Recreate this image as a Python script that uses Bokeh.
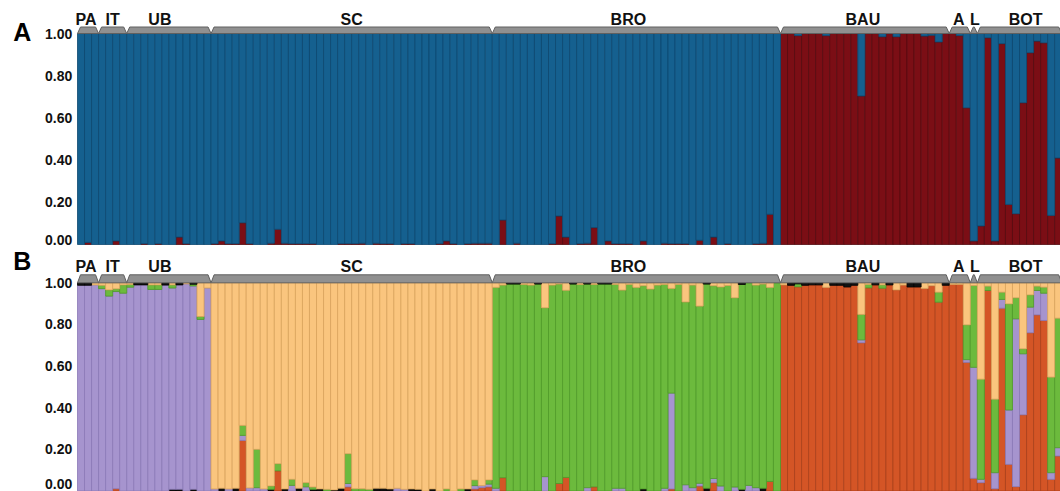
import numpy as np
from bokeh.plotting import figure
from bokeh.layouts import column
from bokeh.models import ColumnDataSource, Range1d
from bokeh.core.properties import value
from bokeh.embed import file_html
from bokeh.resources import INLINE

# ---------------- data ----------------
populations = ["PA", "IT", "UB", "SC", "BRO", "BAU", "A", "L", "BOT"]
pop_sizes = [3, 4, 12, 40, 41, 24, 3, 1, 12]
tick_values = [0.0, 0.2, 0.4, 0.6, 0.8, 1.0]
tick_labels = ["0.00", "0.20", "0.40", "0.60", "0.80", "1.00"]
panel_letters = ["A", "B"]

# Panel A (K=2): membership in the dark-red cluster; blue cluster = remainder (q sums to 1)
a_red = [
    0, 0.01, 0,                                            # PA
    0, 0, 0.017, 0,                                        # IT
    0, 0, 0.004, 0, 0.004, 0, 0, 0.035, 0.004, 0, 0, 0,    # UB
    0.004, 0.017, 0.004, 0.004, 0.103, 0.004, 0, 0, 0.006, 0.072,      # SC 19-28
    0.006, 0.004, 0.004, 0.004, 0.004, 0, 0, 0, 0.004, 0.004,          # 29-38
    0.004, 0.006, 0, 0.006, 0.004, 0.004, 0, 0.004, 0.004, 0,          # 39-48
    0, 0, 0.004, 0.017, 0.004, 0, 0.004, 0.006, 0.006, 0.006,          # 49-58
    0, 0.116, 0, 0.006, 0, 0, 0, 0, 0.004, 0.135,                      # BRO 59-68
    0.035, 0, 0.004, 0.006, 0.08, 0, 0.017, 0.004, 0.004, 0.004,       # 69-78
    0, 0.017, 0, 0, 0.006, 0.004, 0.004, 0.004, 0, 0.02,               # 79-88
    0, 0.035, 0, 0.004, 0, 0, 0, 0.004, 0.006, 0.143,                  # 89-98
    0,                                                                 # 99
    1, 1, 0.99, 1, 1, 1, 0.99, 1, 1, 1,                                # BAU 100-109
    1, 0.704, 1, 1, 0.985, 1, 0.985, 1, 1, 1,                          # 110-119
    0.988, 0.992, 0.96, 1,                                             # 120-123
    1, 0.99, 0.648,                                                    # A
    0.017,                                                             # L
    0.088, 0.98, 0.017, 0.952, 0.19, 0.146, 0.672, 0.909, 0.964, 0.956, 0.138, 0.41,  # BOT
]
a_blue = [None] * 140

# Panel B (K=5); None = the remaining share of that individual
b_black_low = (
    [0, 0, 0] + [0, 0, 0, 0] +
    [0, 0, 0, 0, 0, 0, 0.008, 0.008, 0, 0.008, 0, 0] +
    [0, 0.013, 0, 0.013, 0, 0, 0, 0, 0.008, 0,
     0.01, 0, 0.013, 0, 0.008, 0.01, 0, 0.005, 0.013, 0,
     0, 0, 0, 0.013, 0.013, 0.01, 0, 0, 0.01, 0.008,
     0, 0.01, 0, 0, 0, 0, 0.01, 0, 0, 0] +
    [0] * 10 + [0] * 10 +
    [0, 0.01, 0, 0, 0, 0, 0, 0, 0, 0,
     0.013, 0, 0, 0, 0, 0.008, 0, 0, 0.013, 0, 0] +
    [0] * 24 + [0, 0, 0] + [0] + [0] * 12
)
b_orange = (
    [0, 0, 0] + [0, 0, 0.011, 0] + [0] * 12 +
    [0, 0, 0, 0, 0.243, 0, 0, 0, 0, 0.097,
     0, 0, 0, 0, 0, 0, 0, 0, 0, 0.02,
     0, 0, 0, 0, 0, 0, 0, 0, 0, 0,
     0, 0, 0, 0, 0, 0, 0, 0.01, 0.016, 0.02] +
    [0, 0.064, 0, 0, 0, 0, 0, 0, 0, 0.036,
     0.065, 0, 0, 0, 0.02, 0, 0, 0, 0, 0,
     0, 0, 0, 0, 0, 0.01, 0, 0, 0, 0.024,
     0, 0.04, 0, 0, 0, 0, 0, 0, 0, 0.046, 0] +
    [None] * 24 + [None, None, None] + [0.061] +
    [0.04, None, 0.011, None, 0.128, 0.021, None, None, None, None, 0.056, 0.168]
)
b_purple = (
    [None] * 3 + [None] * 4 + [None] * 12 +
    [0.01, 0, 0.01, 0, 0.024, 0.015, 0.016, 0.01, 0, 0,
     0, 0.027, 0, 0.02, 0, 0, 0, 0, 0, 0.016,
     0, 0, 0, 0, 0, 0, 0.013, 0.008, 0, 0,
     0, 0, 0, 0, 0, 0, 0, 0.016, 0.01, 0.013] +
    [0.013, 0, 0, 0, 0, 0, 0, 0.069, 0, 0,
     0, 0, 0, 0.016, 0, 0, 0, 0.013, 0.013, 0,
     0, 0, 0, 0, 0.013, 0.46, 0, 0.03, 0.016, 0.013,
     0, 0.02, 0.024, 0, 0.019, 0, 0.027, 0.016, 0, 0, 0] +
    [0] * 10 + [0, 0.014, 0, 0, 0, 0, 0, 0, 0, 0] + [0, 0, 0, 0] +
    [0, 0, 0.013] + [None] +
    [0.016, 0, 0.077, 0.042, 0.261, None, 0.293, 0.123, 0.117, 0.131, 0.032, 0.04]
)
b_green = (
    [0, 0, 0] + [0.016, 0.03, 0.013, 0.04] +
    [0.013, 0, 0, 0.022, 0.022, 0, 0.015, 0, 0, 0.008, 0.014, 0] +
    [0, 0, 0, 0, 0.048, 0, 0.184, 0, 0.016, 0.034,
     0, 0.029, 0, 0.02, 0.011, 0, 0.008, 0, 0, 0.143,
     0.011, 0.011, 0.008, 0, 0, 0, 0, 0, 0, 0,
     0, 0, 0, 0.01, 0, 0.01, 0, 0.027, 0, 0.02] +
    [None] * 41 +
    [0, 0, 0.014, 0, 0, 0, 0, 0, 0, 0,
     0, 0.122, 0.016, 0, 0.016, 0, 0, 0, 0, 0,
     0, 0, 0.048, 0] +
    [0, 0, 0.167] + [0.393] +
    [0.481, 0.021, 0.353, 0.035, None, 0.101, 0.024, 0.059, 0.021, 0.029, None, None]
)
b_tan = (
    [0, 0, 0.01] + [0.012, 0.034, 0.029, 0.01] +
    [0.008, 0, 0, 0.01, 0.01, 0, 0.01, 0, 0.005, 0, 0.162, 0.025] +
    [None] * 40 +
    [0.022, 0.011, 0, 0, 0.008, 0.011, 0, 0.12, 0.011, 0.006,
     0.036, 0, 0.008, 0, 0.008, 0, 0, 0.008, 0.035, 0.008,
     0.022, 0.014, 0.03, 0.011, 0.008, 0.027, 0.008, 0.092, 0.011, 0.112,
     0, 0.014, 0.02, 0.013, 0.072, 0, 0, 0.011, 0.006, 0.022, 0] +
    [0.01, 0, 0, 0, 0, 0, 0.022, 0, 0, 0,
     0, 0.152, 0.008, 0, 0.01, 0, 0.034, 0.011, 0, 0,
     0.027, 0.014, 0.045, 0] +
    [0.008, 0.008, 0.202] + [0.013] +
    [None, 0.016, None, 0.045, 0.101, 0.072, 0.317, 0.058, 0.016, 0.021, 0.453, 0.17]
)
b_black_high = (
    [0.012, 0.012, 0] + [0, 0, 0, 0] +
    [0, 0.01, 0.01, 0, 0, 0.011, 0, 0.01, 0, 0.007, 0, 0] +
    [0] * 40 +
    [0, 0, 0.006, 0.006, 0, 0, 0.006, 0, 0, 0,
     0, 0.006, 0, 0.006, 0, 0.006, 0.006, 0, 0, 0,
     0, 0, 0, 0, 0, 0, 0, 0, 0, 0,
     0.006, 0, 0, 0, 0, 0.008, 0, 0, 0, 0, 0] +
    [0, 0.012, 0.005, 0.012, 0.01, 0.01, 0, 0.012, 0.012, 0.02,
     0.012, 0, 0, 0.01, 0, 0.01, 0, 0, 0.02, 0.02,
     0, 0, 0, 0.012] +
    [0, 0, 0] + [0] + [0] * 12
)

# ---------------- layout / style ----------------
N = sum(pop_sizes)
for s in [a_red, a_blue, b_black_low, b_orange, b_purple, b_green, b_tan, b_black_high]:
    assert len(s) == N, len(s)

W = 1060
FONT = value("Liberation Sans")
LEFT = 77.0                     # page x of the first bar
PX = 7.03                       # pixels per individual
X0 = -LEFT / PX
X1 = X0 + W / PX


def fill_rest(series):
    arr = [list(s) for s in series]
    for i in range(N):
        known = sum(s[i] for s in arr if s[i] is not None)
        for s in arr:
            if s[i] is None:
                s[i] = max(0.0, 1.0 - known)
    return arr


def make_panel(height, y_top_px, y_one_px, y_zero_px, series, colors, outlines,
               letter, letter_px, label_px, bracket_px, zero_label_px):
    upu = y_zero_px - y_one_px
    to_y = lambda py: 1 + (y_one_px - py) / upu
    y1 = to_y(y_top_px)
    y0 = y1 - height / upu
    p = figure(width=W, height=height, x_range=Range1d(X0, X1), y_range=Range1d(y0, y1),
               output_backend="svg", toolbar_location=None,
               x_axis_location=None, y_axis_location=None,
               min_border=0, min_border_left=0, min_border_right=0,
               min_border_top=0, min_border_bottom=0)
    p.grid.visible = False
    p.outline_line_color = None
    p.background_fill_color = "white"
    p.border_fill_color = "white"

    xs = np.arange(N) + 0.5
    arr = fill_rest(series)
    bottom = np.zeros(N)
    for s, c, lc in zip(arr, colors, outlines):
        v = np.array(s, dtype=float)
        top = bottom + v
        m = v > 0
        src = ColumnDataSource(dict(x=xs[m], bottom=bottom[m], top=top[m]))
        p.vbar(x="x", width=1.0, bottom="bottom", top="top", source=src,
               fill_color=c, line_color=lc, line_width=0.8)
        bottom = top

    # population brackets
    bh = bracket_px / upu
    starts = np.cumsum([0] + pop_sizes[:-1])
    ends = starts + np.array(pop_sizes)
    sl = 3.0 / PX
    bxs, bys = [], []
    for s0, e0 in zip(starts, ends):
        bxs.append([s0, s0 + sl, e0 - sl, e0])
        bys.append([1.0, 1.0 + bh, 1.0 + bh, 1.0])
    p.patches(xs=bxs, ys=bys, fill_color="#909090", line_color="#606060", line_width=1)

    offsets = {"PA": -2, "UB": -9, "BRO": -8, "BAU": -2, "A": -1, "L": 1, "BOT": 6}
    lx = [(s0 + e0) / 2 + offsets.get(n, 0) / PX for s0, e0, n in zip(starts, ends, populations)]
    p.text(x=lx, y=[to_y(label_px)] * len(lx), text=populations, text_font=FONT,
           text_font_style="bold", text_font_size="16px", text_align="center",
           text_baseline="middle", text_color="#111111")

    ty = [to_y(zero_label_px) if t == 0 else t for t in tick_values]
    p.text(x=[(71.7 - LEFT) / PX] * len(ty), y=ty, text=tick_labels, text_font=FONT,
           text_font_style="bold", text_font_size="14px", text_align="right",
           text_baseline="middle", text_color="#111111")

    p.text(x=[(21.7 - LEFT) / PX], y=[to_y(letter_px)], text=[letter], text_font=FONT,
           text_font_style="bold", text_font_size="25px", text_align="center",
           text_baseline="middle", text_color="#000000")
    return p


pA = make_panel(248, 0, 33.0, 244.0, [a_red, a_blue],
                ["#7b0e15", "#15608f"], ["#560a0f", "#0d4870"],
                panel_letters[0], 31.3, 19.2, 6.5, 239.3)

pB = make_panel(243, 248, 282.3, 490.5,
                [b_black_low, b_orange, b_purple, b_green, b_tan, b_black_high],
                ["#111111", "#d45526", "#a694ce", "#6cba3d", "#fac57e", "#111111"],
                ["#000000", "#a9401a", "#8a78b6", "#4f9a28", "#d9a35c", "#000000"],
                panel_letters[1], 260.8, 266.2, 8.0, 483.5)

layout = column(pA, pB, spacing=0)
open("out.html", "w").write(file_html(layout, INLINE))
